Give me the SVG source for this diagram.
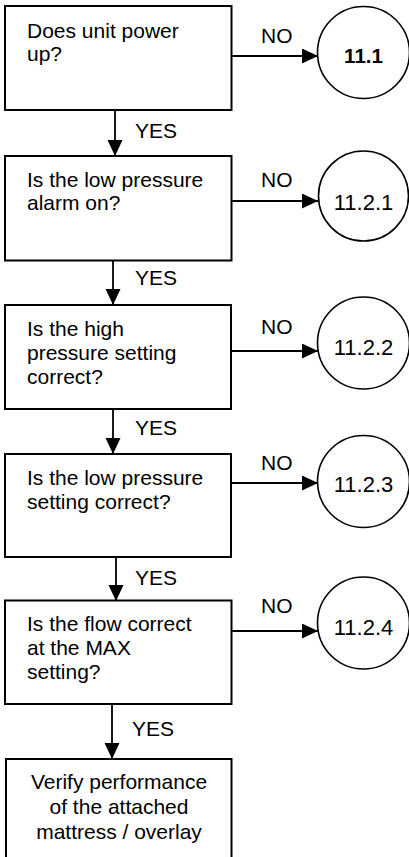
<svg xmlns="http://www.w3.org/2000/svg" width="409" height="857" viewBox="0 0 409 857">
<style>
.box{fill:#fff;stroke:#000;stroke-width:2}
.circ{fill:#fff;stroke:#000;stroke-width:1.6}
.t{font-family:"Liberation Sans",Arial,sans-serif;font-size:21px;fill:#000}
.c{font-family:"Liberation Sans",Arial,sans-serif;font-size:22px;fill:#000;text-anchor:middle}
.b{font-weight:bold;font-size:20.5px}
.m{text-anchor:middle}
.ln{stroke:#000;stroke-width:1.8;fill:none}
</style>
<defs>
<marker id="ah" markerUnits="userSpaceOnUse" markerWidth="17" markerHeight="16" refX="16" refY="7.5" orient="auto">
<path d="M0,0 L16,7.5 L0,15 z" fill="#000"/>
</marker>
</defs>
<rect width="409" height="857" fill="#fff"/>
<g id="connectors">
<line class="ln" x1="231.5" y1="56" x2="318" y2="56" marker-end="url(#ah)"/>
<line class="ln" x1="231.5" y1="201" x2="318" y2="201" marker-end="url(#ah)"/>
<line class="ln" x1="231.5" y1="351" x2="318" y2="351" marker-end="url(#ah)"/>
<line class="ln" x1="231.5" y1="483" x2="318" y2="483" marker-end="url(#ah)"/>
<line class="ln" x1="231.5" y1="631" x2="318" y2="631" marker-end="url(#ah)"/>
<line class="ln" x1="115" y1="110" x2="115" y2="156" marker-end="url(#ah)"/>
<line class="ln" x1="113" y1="261" x2="113" y2="305" marker-end="url(#ah)"/>
<line class="ln" x1="113" y1="409" x2="113" y2="454" marker-end="url(#ah)"/>
<line class="ln" x1="116" y1="557" x2="116" y2="601" marker-end="url(#ah)"/>
<line class="ln" x1="112" y1="704" x2="112" y2="759" marker-end="url(#ah)"/>
<text class="t" x="261" y="43">NO</text>
<text class="t" x="261" y="187">NO</text>
<text class="t" x="261" y="334">NO</text>
<text class="t" x="261" y="470">NO</text>
<text class="t" x="261" y="613">NO</text>
<text class="t" x="135" y="138">YES</text>
<text class="t" x="135" y="285">YES</text>
<text class="t" x="135" y="435">YES</text>
<text class="t" x="135" y="585">YES</text>
<text class="t" x="132" y="736">YES</text>
</g>
<g id="q1">
<rect class="box" x="5" y="6" width="226.5" height="104"/>
<text class="t" x="27" y="37.5">Does unit power</text>
<text class="t" x="27" y="61">up?</text>
</g>
<g id="c1">
<circle class="circ" cx="363.5" cy="52.5" r="46"/>
<text class="c b" x="363.5" y="63">11.1</text>
</g>
<g id="q2">
<rect class="box" x="5" y="156" width="226.5" height="104.5"/>
<text class="t" x="27" y="186.5">Is the low pressure</text>
<text class="t" x="27" y="209.5">alarm on?</text>
</g>
<g id="c2">
<circle class="circ" cx="363.5" cy="196" r="45"/>
<text class="c" x="363.5" y="210">11.2.1</text>
</g>
<g id="q3">
<rect class="box" x="5" y="305" width="226" height="104"/>
<text class="t" x="27" y="335.5">Is the high</text>
<text class="t" x="27" y="359.5">pressure setting</text>
<text class="t" x="27" y="383.5">correct?</text>
</g>
<g id="c3">
<circle class="circ" cx="363.5" cy="343" r="46"/>
<text class="c" x="363.5" y="355">11.2.2</text>
</g>
<g id="q4">
<rect class="box" x="5" y="454" width="226" height="103"/>
<text class="t" x="27" y="484.5">Is the low pressure</text>
<text class="t" x="27" y="508.5">setting correct?</text>
</g>
<g id="c4">
<circle class="circ" cx="363.5" cy="481.5" r="46"/>
<text class="c" x="363.5" y="491.5">11.2.3</text>
</g>
<g id="q5">
<rect class="box" x="5" y="600.5" width="226.5" height="103.5"/>
<text class="t" x="27" y="630.5">Is the flow correct</text>
<text class="t" x="27" y="655">at the MAX</text>
<text class="t" x="27" y="679">setting?</text>
</g>
<g id="c5">
<circle class="circ" cx="363.5" cy="623" r="46"/>
<text class="c" x="363.5" y="635">11.2.4</text>
</g>
<g id="end">
<rect class="box" x="6" y="759" width="225.5" height="110"/>
<text class="t m" x="119" y="788.5">Verify performance</text>
<text class="t m" x="119" y="813.5">of the attached</text>
<text class="t m" x="119" y="838.5">mattress / overlay</text>
</g>
</svg>
